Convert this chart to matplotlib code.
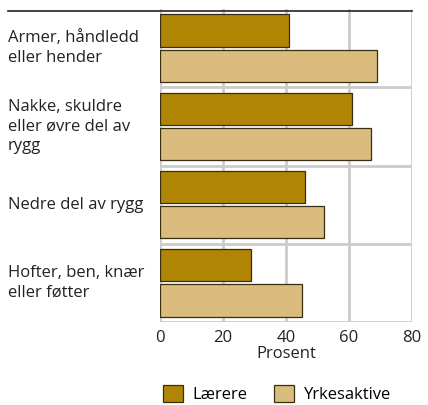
import matplotlib
matplotlib.use("Agg")
import matplotlib.pyplot as plt
from matplotlib.patches import Patch
from matplotlib.lines import Line2D
import matplotlib.transforms as mtransforms

categories = ["Armer, håndledd\neller hender",
              "Nakke, skuldre\neller øvre del av\nrygg",
              "Nedre del av rygg",
              "Hofter, ben, knær\neller føtter"]
laerere = [41, 61, 46, 29]
yrkesaktive = [69, 67, 52, 45]
series_names = ["Lærere", "Yrkesaktive"]
xticks = [0, 20, 40, 60, 80]

c_dark = "#B08504"
c_light = "#D9BC7E"
grid_c = "#cccccc"

plt.rcParams['font.family'] = ['Open Sans', 'DejaVu Sans']
fs = 12

fig = plt.figure(figsize=(4.28, 4.05), dpi=100)
ax = fig.add_axes([160/428, 1-322/405, (411.7-160)/428, (322-9)/405])

n = len(categories)
ys = list(range(n))
off = 0.225
h = 0.41
ax.barh([y - off for y in ys], laerere, height=h, color=c_dark,
        edgecolor="#3a2e10", linewidth=0.9, zorder=3)
ax.barh([y + off for y in ys], yrkesaktive, height=h, color=c_light,
        edgecolor="#3a2e10", linewidth=0.9, zorder=3)

ax.set_xlim(0, 80)
ax.set_ylim(n - 0.5, -0.5)
ax.set_xticks(xticks)
ax.set_xticklabels([str(t) for t in xticks], fontsize=fs, color="#222222")
ax.set_yticks([])
ax.tick_params(axis='x', length=0, pad=6)
for s in ax.spines.values():
    s.set_visible(False)

for x in xticks:
    ax.axvline(x, color=grid_c, linewidth=2, zorder=1)
for i in range(n):
    ax.axhline(i + 0.5, color=grid_c, linewidth=2, zorder=1)

# top black rule spanning the figure
fig.add_artist(Line2D([8/428, 412/428], [1-11/405, 1-11/405],
                      color="#222222", linewidth=1.2, transform=fig.transFigure))

trans = mtransforms.blended_transform_factory(fig.transFigure, ax.transData)
for i, cat in enumerate(categories):
    ax.text(8/428, i, cat, transform=trans, ha='left', va='center',
            fontsize=fs, color="#222222", linespacing=1.32)

ax.set_xlabel("Prosent", fontsize=fs, color="#222222", labelpad=0)

handles = [Patch(facecolor=c_dark, edgecolor="#3a2e10", linewidth=0.9),
           Patch(facecolor=c_light, edgecolor="#3a2e10", linewidth=0.9)]
fig.legend(handles, series_names, loc='center', bbox_to_anchor=(277/428, 1-394/405),
           ncol=2, frameon=False, fontsize=fs, handlelength=1.2, handleheight=1.2,
           handletextpad=0.6, columnspacing=1.6, borderpad=0)

fig.savefig("out.png", dpi=100)
